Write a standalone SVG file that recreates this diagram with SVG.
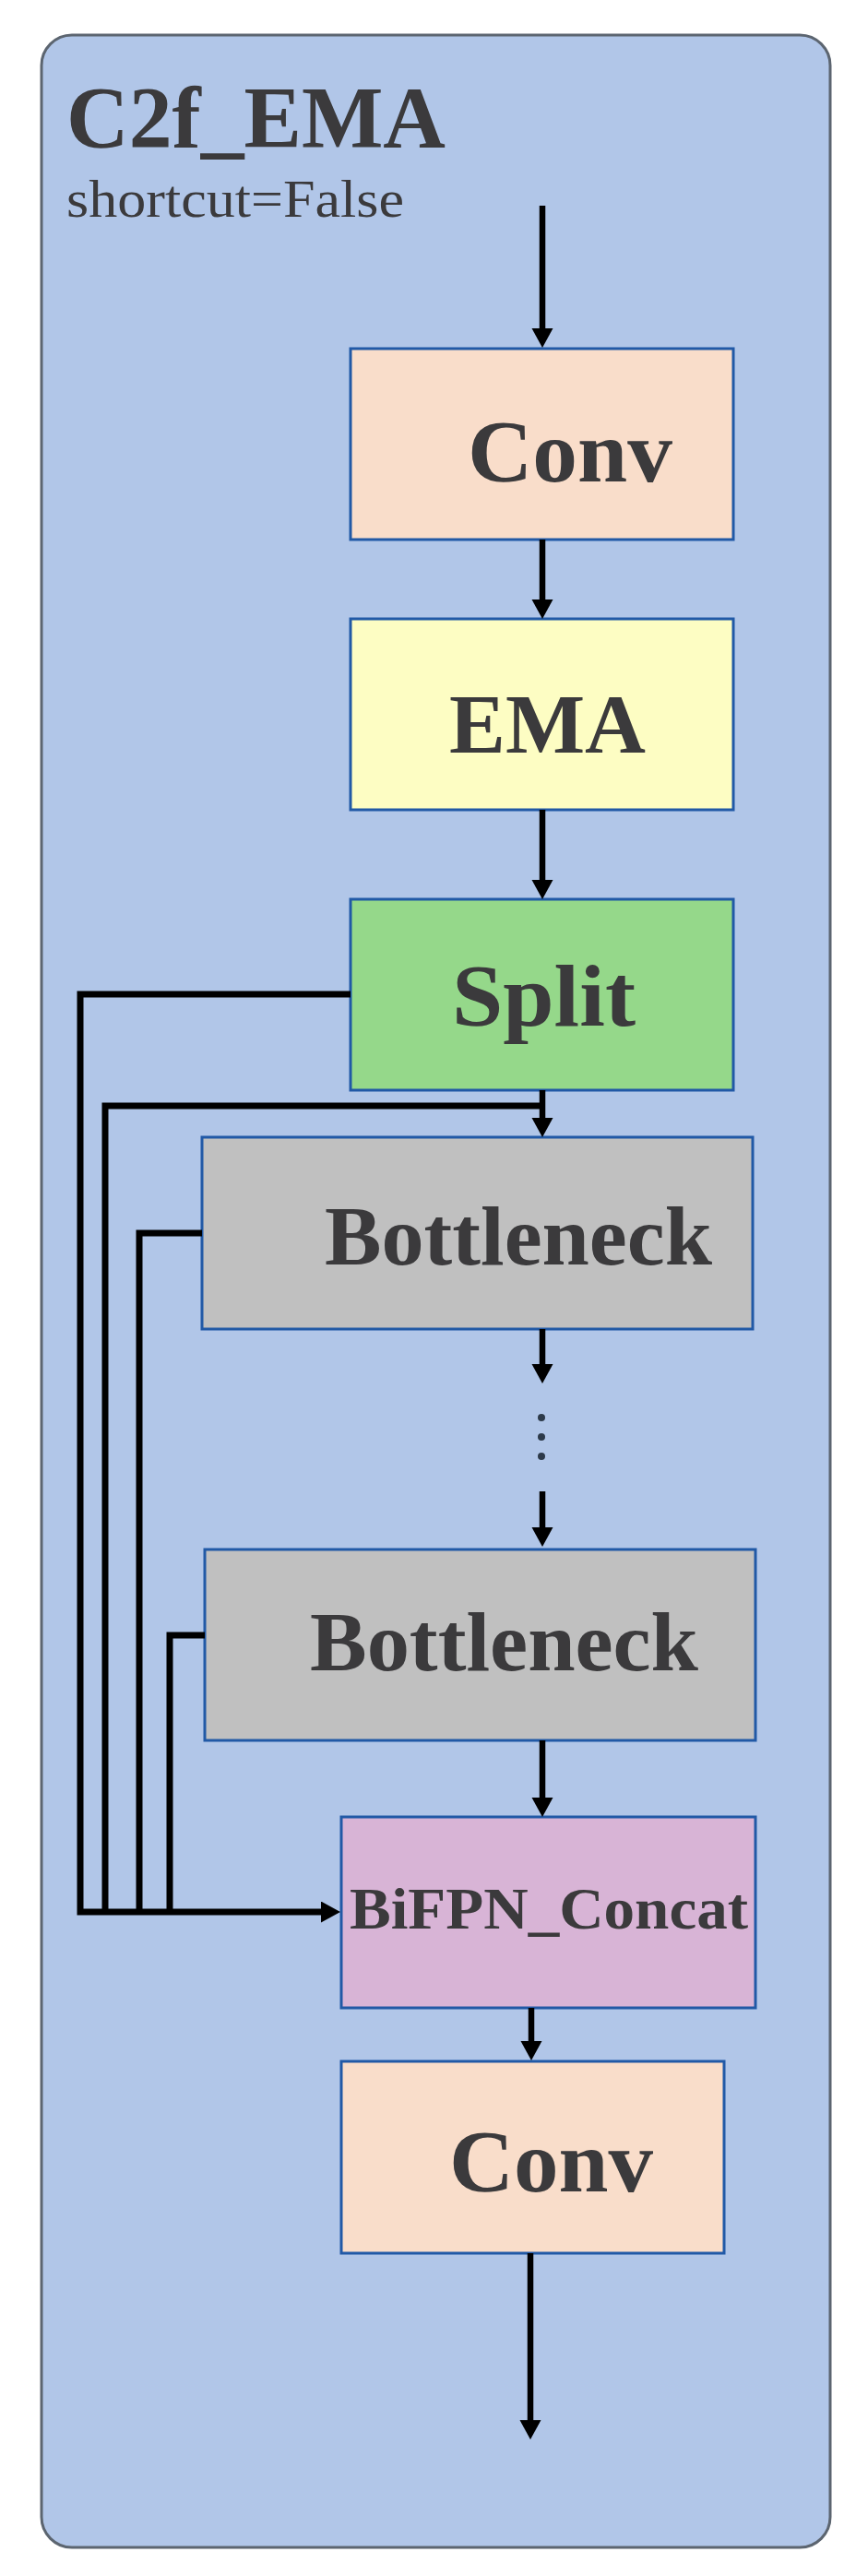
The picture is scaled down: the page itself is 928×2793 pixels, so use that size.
<svg xmlns="http://www.w3.org/2000/svg" width="928" height="2793" viewBox="0 0 928 2793">
<defs>
<style>
.box{stroke:#2159a6;stroke-width:3}
.lbl{font-family:"Liberation Serif","DejaVu Serif",serif;font-weight:bold;fill:#3b3a3c}
.ln{stroke:#000;stroke-width:6.5;fill:none;stroke-linejoin:miter;stroke-linecap:butt}
.br{stroke:#000;stroke-width:7;fill:none;stroke-linejoin:miter;stroke-linecap:butt}
</style>
<marker id="ah" markerUnits="userSpaceOnUse" markerWidth="22" markerHeight="24" refX="1" refY="11.5" orient="auto">
<path d="M0,0 L21,11.5 L0,23 z" fill="#000"/>
</marker>
</defs>
<rect width="928" height="2793" fill="#ffffff"/>
<g id="container">
<rect x="45" y="38" width="855" height="2724" rx="33" ry="33" fill="#b1c6e8" stroke="#5c6570" stroke-width="3"/>
<text x="72" y="160" class="lbl" font-size="96" textLength="411" lengthAdjust="spacingAndGlyphs">C2f_EMA</text>
<text x="72" y="235" font-family="Liberation Serif, DejaVu Serif, serif" font-size="57" fill="#3b3a3c" textLength="366" lengthAdjust="spacingAndGlyphs">shortcut=False</text>
</g>
<g id="conv1">
<rect class="box" x="380" y="378" width="415" height="207" fill="#f9ddca"/>
<text class="lbl" x="507" y="522" font-size="96" textLength="222" lengthAdjust="spacingAndGlyphs">Conv</text>
</g>
<g id="ema">
<rect class="box" x="380" y="671" width="415" height="207" fill="#fdfdc3"/>
<text class="lbl" x="487" y="816" font-size="92" textLength="213" lengthAdjust="spacingAndGlyphs">EMA</text>
</g>
<g id="split">
<rect class="box" x="380" y="975" width="415" height="207" fill="#95d88a"/>
<text class="lbl" x="490" y="1112" font-size="96" textLength="199" lengthAdjust="spacingAndGlyphs">Split</text>
</g>
<g id="bottleneck1">
<rect class="box" x="219" y="1233" width="597" height="208" fill="#c0c0c0"/>
<text class="lbl" x="352" y="1371" font-size="90" textLength="420" lengthAdjust="spacingAndGlyphs">Bottleneck</text>
</g>
<g id="bottleneck2">
<rect class="box" x="222" y="1680" width="597" height="207" fill="#c0c0c0"/>
<text class="lbl" x="336" y="1811" font-size="90" textLength="421" lengthAdjust="spacingAndGlyphs">Bottleneck</text>
</g>
<g id="bifpn_concat">
<rect class="box" x="370" y="1970" width="449" height="207" fill="#d8b4d6"/>
<text class="lbl" x="379" y="2091" font-size="64" textLength="432" lengthAdjust="spacingAndGlyphs">BiFPN_Concat</text>
</g>
<g id="conv2">
<rect class="box" x="370" y="2235" width="415" height="208" fill="#f9ddca"/>
<text class="lbl" x="487" y="2376" font-size="96" textLength="221" lengthAdjust="spacingAndGlyphs">Conv</text>
</g>
<g id="connectors">
<line class="ln" x1="588" y1="223" x2="588" y2="357" marker-end="url(#ah)"/>
<line class="ln" x1="588" y1="585" x2="588" y2="651" marker-end="url(#ah)"/>
<line class="ln" x1="588" y1="878" x2="588" y2="955" marker-end="url(#ah)"/>
<line class="ln" x1="588" y1="1182" x2="588" y2="1213" marker-end="url(#ah)"/>
<line class="ln" x1="588" y1="1441" x2="588" y2="1480" marker-end="url(#ah)"/>
<circle cx="587" cy="1537" r="4" fill="#2d3a4a"/>
<circle cx="587" cy="1558" r="4" fill="#2d3a4a"/>
<circle cx="587" cy="1579" r="4" fill="#2d3a4a"/>
<line class="ln" x1="588" y1="1617" x2="588" y2="1657" marker-end="url(#ah)"/>
<line class="ln" x1="588" y1="1887" x2="588" y2="1950" marker-end="url(#ah)"/>
<line class="ln" x1="576" y1="2177" x2="576" y2="2214" marker-end="url(#ah)"/>
<line class="ln" x1="575" y1="2443" x2="575" y2="2625" marker-end="url(#ah)"/>
<polyline class="br" points="380,1078 87,1078 87,2073 349,2073" marker-end="url(#ah)"/>
<polyline class="br" points="588,1199 114,1199 114,2073"/>
<polyline class="br" points="219,1337 151,1337 151,2073"/>
<polyline class="br" points="222,1773 184,1773 184,2073"/>
</g>
</svg>
